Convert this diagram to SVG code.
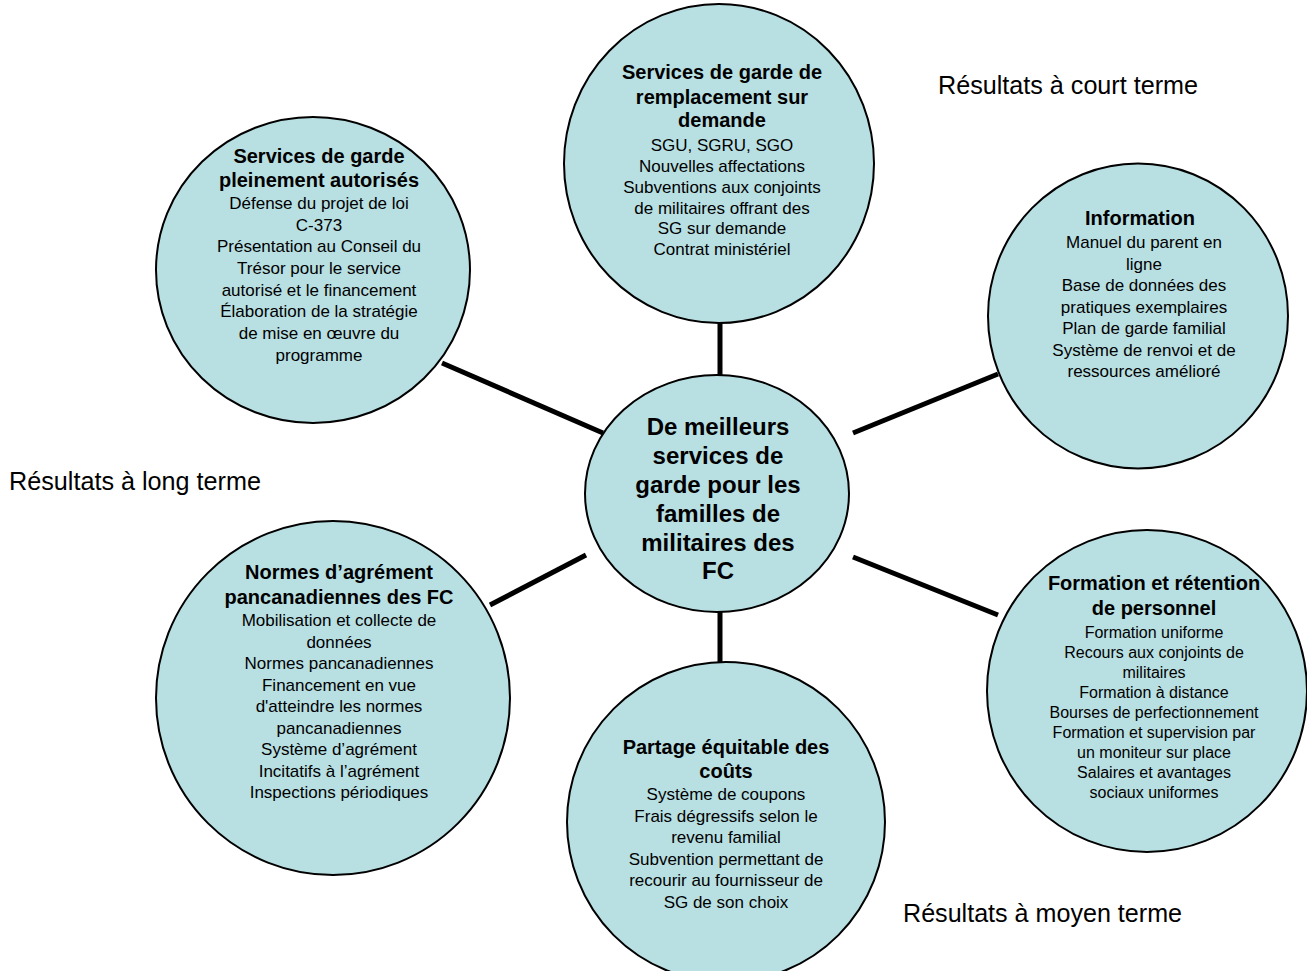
<svg xmlns="http://www.w3.org/2000/svg" width="1307" height="971" viewBox="0 0 1307 971">
<style>
.node{fill:#B8DFE2;stroke:#000;stroke-width:2}
.conn{stroke:#000;stroke-width:5;fill:none}
text{font-family:"Liberation Sans",Arial,sans-serif;fill:#000;text-anchor:middle}
.t{font-weight:bold;font-size:20px}
.b{font-size:17px}
.s{font-size:16px}
.c{font-weight:bold;font-size:24px}
.lab{font-size:26px;text-anchor:start}
</style>
<rect width="1307" height="971" fill="#fff"/>
<g id="connectors">
<line class="conn" x1="720" y1="323" x2="720" y2="376"/>
<line class="conn" x1="442" y1="363" x2="603" y2="433"/>
<line class="conn" x1="853" y1="433" x2="998" y2="374"/>
<line class="conn" x1="490" y1="605" x2="586" y2="555"/>
<line class="conn" x1="853" y1="557" x2="998" y2="615"/>
<line class="conn" x1="720" y1="611" x2="720" y2="663"/>
</g>
<g id="node-top">
<ellipse class="node" cx="719" cy="163.5" rx="155" ry="159.5"/>
<text class="t" x="722" y="79">Services de garde de</text>
<text class="t" x="722" y="104">remplacement sur</text>
<text class="t" x="722" y="127">demande</text>
<text class="b" x="722" y="151">SGU, SGRU, SGO</text>
<text class="b" x="722" y="172">Nouvelles affectations</text>
<text class="b" x="722" y="193">Subventions aux conjoints</text>
<text class="b" x="722" y="214">de militaires offrant des</text>
<text class="b" x="722" y="234">SG sur demande</text>
<text class="b" x="722" y="255">Contrat ministériel</text>
</g>
<g id="node-top-left">
<ellipse class="node" cx="313" cy="270" rx="157" ry="153"/>
<text class="t" x="319" y="163">Services de garde</text>
<text class="t" x="319" y="187">pleinement autorisés</text>
<text class="b" x="319" y="209">Défense du projet de loi</text>
<text class="b" x="319" y="231">C-373</text>
<text class="b" x="319" y="252">Présentation au Conseil du</text>
<text class="b" x="319" y="274">Trésor pour le service</text>
<text class="b" x="319" y="296">autorisé et le financement</text>
<text class="b" x="319" y="317">Élaboration de la stratégie</text>
<text class="b" x="319" y="339">de mise en œuvre du</text>
<text class="b" x="319" y="361">programme</text>
</g>
<g id="node-top-right">
<ellipse class="node" cx="1138" cy="316" rx="150" ry="152.5"/>
<text class="t" x="1140" y="225">Information</text>
<text class="b" x="1144" y="248">Manuel du parent en</text>
<text class="b" x="1144" y="270">ligne</text>
<text class="b" x="1144" y="291">Base de données des</text>
<text class="b" x="1144" y="313">pratiques exemplaires</text>
<text class="b" x="1144" y="334">Plan de garde familial</text>
<text class="b" x="1144" y="356">Système de renvoi et de</text>
<text class="b" x="1144" y="377">ressources amélioré</text>
</g>
<g id="node-center">
<ellipse class="node" cx="717" cy="493.5" rx="132" ry="118.5"/>
<text class="c" x="718" y="434.5">De meilleurs</text>
<text class="c" x="718" y="463.5">services de</text>
<text class="c" x="718" y="492.5">garde pour les</text>
<text class="c" x="718" y="521.5">familles de</text>
<text class="c" x="718" y="550.5">militaires des</text>
<text class="c" x="718" y="579">FC</text>
</g>
<g id="node-bottom-left">
<ellipse class="node" cx="333" cy="698" rx="177" ry="177"/>
<text class="t" x="339" y="579">Normes d’agrément</text>
<text class="t" x="339" y="604">pancanadiennes des FC</text>
<text class="b" x="339" y="626">Mobilisation et collecte de</text>
<text class="b" x="339" y="647.5">données</text>
<text class="b" x="339" y="669">Normes pancanadiennes</text>
<text class="b" x="339" y="690.5">Financement en vue</text>
<text class="b" x="339" y="712">d'atteindre les normes</text>
<text class="b" x="339" y="733.5">pancanadiennes</text>
<text class="b" x="339" y="755">Système d’agrément</text>
<text class="b" x="339" y="776.5">Incitatifs à l’agrément</text>
<text class="b" x="339" y="798">Inspections périodiques</text>
</g>
<g id="node-bottom">
<ellipse class="node" cx="726" cy="822" rx="159" ry="160"/>
<text class="t" x="726" y="754">Partage équitable des</text>
<text class="t" x="726" y="778">coûts</text>
<text class="b" x="726" y="800">Système de coupons</text>
<text class="b" x="726" y="821.5">Frais dégressifs selon le</text>
<text class="b" x="726" y="843">revenu familial</text>
<text class="b" x="726" y="864.5">Subvention permettant de</text>
<text class="b" x="726" y="886">recourir au fournisseur de</text>
<text class="b" x="726" y="907.5">SG de son choix</text>
</g>
<g id="node-bottom-right">
<ellipse class="node" cx="1147" cy="691" rx="160" ry="161"/>
<text class="t" x="1154" y="590">Formation et rétention</text>
<text class="t" x="1154" y="615">de personnel</text>
<text class="s" x="1154" y="637.5">Formation uniforme</text>
<text class="s" x="1154" y="657.5">Recours aux conjoints de</text>
<text class="s" x="1154" y="677.5">militaires</text>
<text class="s" x="1154" y="697.5">Formation à distance</text>
<text class="s" x="1154" y="717.5">Bourses de perfectionnement</text>
<text class="s" x="1154" y="737.5">Formation et supervision par</text>
<text class="s" x="1154" y="757.5">un moniteur sur place</text>
<text class="s" x="1154" y="777.5">Salaires et avantages</text>
<text class="s" x="1154" y="797.5">sociaux uniformes</text>
</g>
<g id="labels">
<text class="lab" x="938" y="94" textLength="260" lengthAdjust="spacingAndGlyphs">Résultats à court terme</text>
<text class="lab" x="9" y="490" textLength="252" lengthAdjust="spacingAndGlyphs">Résultats à long terme</text>
<text class="lab" x="903" y="922" textLength="279" lengthAdjust="spacingAndGlyphs">Résultats à moyen terme</text>
</g>
</svg>
